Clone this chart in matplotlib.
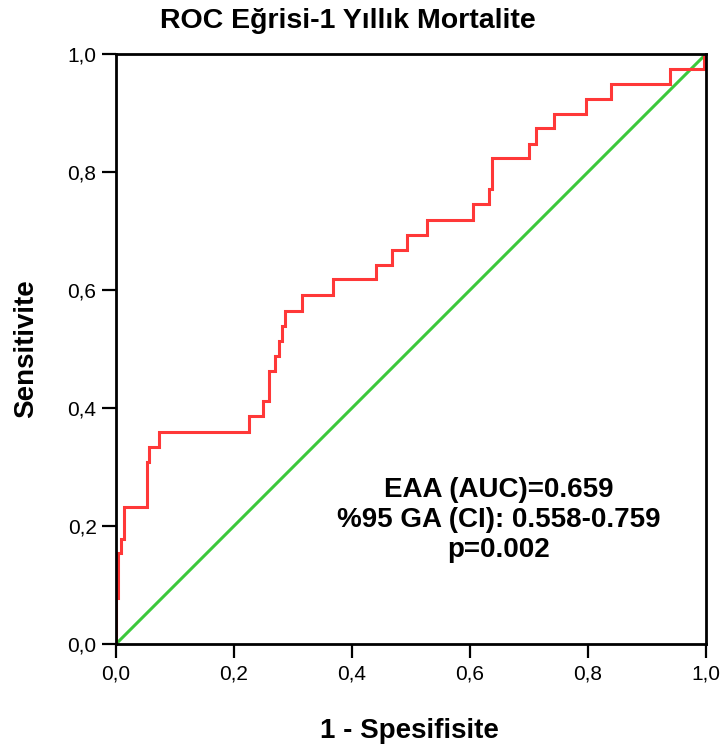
import matplotlib
matplotlib.use("Agg")
import matplotlib.pyplot as plt

plt.rcParams['font.family'] = ['Liberation Sans', 'DejaVu Sans']

# ROC curve points (1 - specificity, sensitivity), step corners
fpr = [0.000, 0.000, 0.003, 0.003, 0.008, 0.008, 0.014, 0.014, 0.052, 0.052,
       0.056, 0.056, 0.073, 0.073, 0.225, 0.225, 0.249, 0.249, 0.259, 0.259,
       0.270, 0.270, 0.277, 0.277, 0.281, 0.281, 0.286, 0.286, 0.315, 0.315,
       0.368, 0.368, 0.441, 0.441, 0.468, 0.468, 0.494, 0.494, 0.527, 0.527,
       0.605, 0.605, 0.632, 0.632, 0.637, 0.637, 0.700, 0.700, 0.712, 0.712,
       0.742, 0.742, 0.796, 0.796, 0.839, 0.839, 0.939, 0.939, 0.997, 0.997, 1.000]
tpr = [0.000, 0.078, 0.078, 0.154, 0.154, 0.178, 0.178, 0.232, 0.232, 0.308,
       0.308, 0.334, 0.334, 0.360, 0.360, 0.386, 0.386, 0.412, 0.412, 0.463,
       0.463, 0.488, 0.488, 0.514, 0.514, 0.539, 0.539, 0.565, 0.565, 0.591,
       0.591, 0.619, 0.619, 0.643, 0.643, 0.668, 0.668, 0.694, 0.694, 0.719,
       0.719, 0.746, 0.746, 0.771, 0.771, 0.823, 0.823, 0.847, 0.847, 0.874,
       0.874, 0.899, 0.899, 0.924, 0.924, 0.949, 0.949, 0.975, 0.975, 1.000, 1.000]
ref_x = [0.0, 1.0]
ref_y = [0.0, 1.0]

ticks = [0.0, 0.2, 0.4, 0.6, 0.8, 1.0]
tick_labels = ['0,0', '0,2', '0,4', '0,6', '0,8', '1,0']

title = 'ROC Eğrisi-1 Yıllık Mortalite'
xlabel = '1 - Spesifisite'
ylabel = 'Sensitivite'
annot_lines = ['EAA (AUC)=0.659', '%95 GA (CI): 0.558-0.759', 'p=0.002']

W, H = 723, 749
fig = plt.figure(figsize=(W / 100, H / 100), dpi=100)
ax = fig.add_axes([116 / W, 1 - 644 / H, 590 / W, 590 / H])

ax.plot(ref_x, ref_y, color='#3cc83c', lw=2.2, solid_capstyle='butt')
ax.plot(fpr, tpr, color='#ff3838', lw=2.2, solid_joinstyle='miter')

ax.set_xlim(0, 1)
ax.set_ylim(0, 1)
ax.set_xticks(ticks)
ax.set_xticklabels(tick_labels)
ax.set_yticks(ticks)
ax.set_yticklabels(tick_labels)
ax.tick_params(direction='out', length=10, width=1.6, labelsize=15, colors='black')
ax.tick_params(axis='x', pad=5)
ax.tick_params(axis='y', pad=4)
for s in ax.spines.values():
    s.set_linewidth(2)
    s.set_color('black')

fs_bold = 20
fig.text(348 / W, 1 - 28 / H, title, ha='center', va='baseline',
         fontsize=20.5, fontweight='bold')
fig.text(409 / W, 1 - 738 / H, xlabel, ha='center', va='baseline',
         fontsize=fs_bold, fontweight='bold')
fig.text(33 / W, 1 - 349 / H, ylabel, ha='center', va='baseline', rotation=90,
         rotation_mode='anchor', fontsize=fs_bold, fontweight='bold')
for line, base in zip(annot_lines, [497, 527, 557]):
    fig.text(499 / W, 1 - base / H, line, ha='center', va='baseline',
             fontsize=fs_bold, fontweight='bold')

fig.savefig('out.png', dpi=100)
